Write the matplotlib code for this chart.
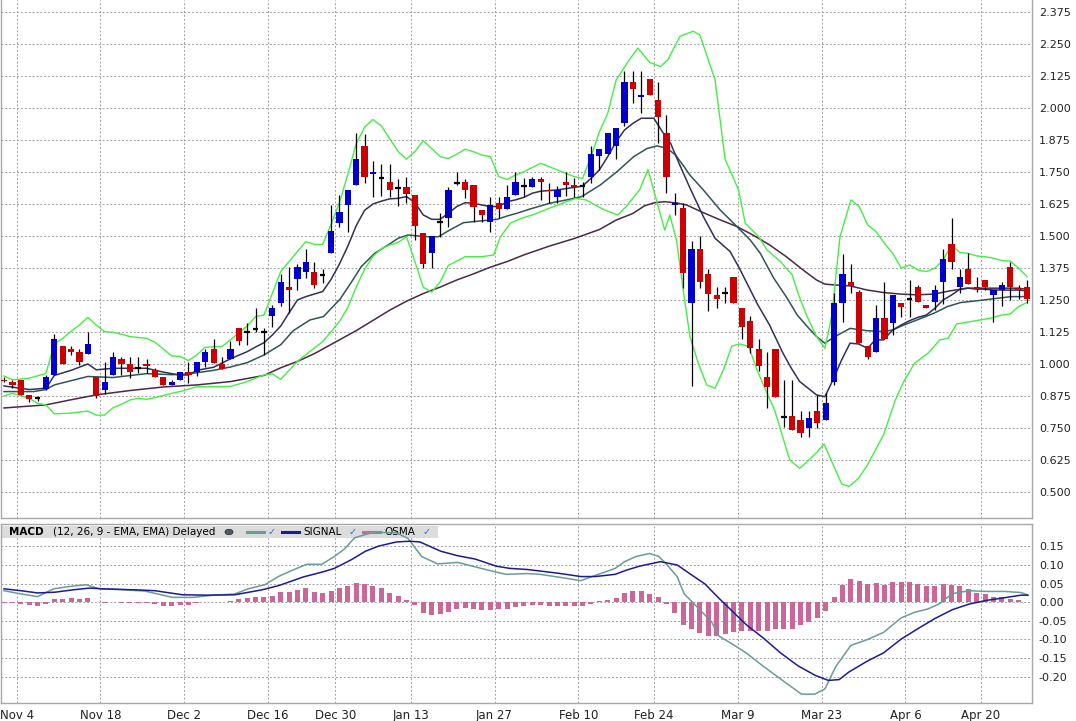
import matplotlib

matplotlib.use("Agg")
import matplotlib.pyplot as plt
from matplotlib.patches import Rectangle, Circle

W, H = 1076, 721

# ---- candles (one per trading day) ----
OPEN = [0.938, 0.930, 0.938, 0.879, 0.865, 0.901, 0.958, 1.070, 1.059, 1.048,
        1.039, 0.948, 0.898, 0.958, 1.020, 1.000, 0.986, 1.000, 0.977, 0.948,
        0.918, 0.939, 0.967, 0.970, 1.009, 1.058, 1.000, 1.021, 1.139, 1.126,
        1.137, 1.126, 1.189, 1.240, 1.299, 1.331, 1.361, 1.358, 1.348, 1.432,
        1.552, 1.621, 1.699, 1.851, 1.743, 1.728, 1.712, 1.689, 1.691, 1.660,
        1.513, 1.432, 1.556, 1.572, 1.708, 1.711, 1.699, 1.602, 1.553, 1.628,
        1.604, 1.660, 1.695, 1.693, 1.723, 1.680, 1.654, 1.709, 1.699, 1.695,
        1.732, 1.812, 1.820, 1.851, 1.943, 2.102, 2.044, 2.113, 2.031, 1.901,
        1.621, 1.609, 1.240, 1.448, 1.352, 1.268, 1.279, 1.339, 1.220, 1.168,
        1.059, 0.948, 1.057, 0.794, 0.797, 0.779, 0.749, 0.818, 0.781, 0.931,
        1.239, 1.320, 1.281, 1.070, 1.048, 1.181, 1.161, 1.237, 1.255, 1.299,
        1.229, 1.241, 1.322, 1.469, 1.302, 1.370, 1.299, 1.328, 1.269, 1.289,
        1.378, 1.298, 1.299]
HIGH = [0.948, 0.937, 0.938, 0.879, 0.876, 0.957, 1.117, 1.070, 1.070, 1.057,
        1.126, 0.948, 1.009, 1.047, 1.029, 1.029, 1.029, 1.018, 0.986, 0.948,
        0.938, 0.967, 1.009, 1.007, 1.057, 1.098, 1.026, 1.090, 1.139, 1.159,
        1.218, 1.139, 1.230, 1.352, 1.380, 1.391, 1.449, 1.397, 1.371, 1.621,
        1.660, 1.680, 1.901, 1.898, 1.793, 1.781, 1.781, 1.721, 1.729, 1.660,
        1.513, 1.500, 1.589, 1.693, 1.751, 1.724, 1.699, 1.602, 1.651, 1.654,
        1.699, 1.751, 1.725, 1.729, 1.729, 1.708, 1.695, 1.751, 1.725, 1.712,
        1.851, 1.840, 1.901, 1.920, 2.145, 2.145, 2.145, 2.113, 2.102, 1.973,
        1.669, 1.628, 1.482, 1.501, 1.371, 1.302, 1.302, 1.339, 1.220, 1.188,
        1.098, 1.046, 1.057, 0.937, 0.937, 0.818, 0.818, 0.879, 0.885, 1.276,
        1.430, 1.391, 1.289, 1.070, 1.229, 1.322, 1.270, 1.237, 1.328, 1.309,
        1.229, 1.309, 1.449, 1.569, 1.371, 1.432, 1.338, 1.328, 1.289, 1.322,
        1.400, 1.309, 1.328]
LOW = [0.931, 0.905, 0.879, 0.853, 0.857, 0.898, 0.958, 1.000, 1.035, 0.996,
       1.039, 0.865, 0.883, 0.958, 0.958, 0.945, 0.966, 0.966, 0.950, 0.918,
       0.918, 0.939, 0.925, 0.953, 0.987, 1.003, 0.979, 1.021, 1.074, 1.074,
       1.126, 1.035, 1.146, 1.227, 1.198, 1.287, 1.337, 1.296, 1.318, 1.432,
       1.536, 1.517, 1.699, 1.708, 1.651, 1.656, 1.651, 1.617, 1.628, 1.484,
       1.376, 1.376, 1.497, 1.536, 1.699, 1.650, 1.556, 1.556, 1.517, 1.569,
       1.604, 1.660, 1.651, 1.693, 1.641, 1.628, 1.628, 1.656, 1.651, 1.651,
       1.708, 1.758, 1.820, 1.799, 1.930, 2.021, 1.979, 2.052, 1.862, 1.669,
       1.582, 1.298, 0.915, 1.298, 1.208, 1.217, 1.237, 1.240, 1.096, 1.042,
       0.974, 0.827, 0.870, 0.755, 0.742, 0.716, 0.716, 0.749, 0.781, 0.918,
       1.165, 1.279, 1.081, 1.018, 1.048, 1.099, 1.113, 1.185, 1.185, 1.241,
       1.220, 1.211, 1.234, 1.370, 1.279, 1.311, 1.283, 1.287, 1.165, 1.227,
       1.250, 1.255, 1.237]
CLOSE = [0.932, 0.919, 0.879, 0.862, 0.865, 0.948, 1.096, 1.000, 1.048, 1.009,
         1.078, 0.876, 0.930, 1.026, 1.000, 0.970, 0.986, 0.990, 0.950, 0.918,
         0.930, 0.967, 0.957, 1.007, 1.045, 1.003, 0.979, 1.057, 1.091, 1.126,
         1.137, 1.126, 1.218, 1.319, 1.290, 1.378, 1.397, 1.309, 1.348, 1.519,
         1.595, 1.680, 1.801, 1.732, 1.751, 1.728, 1.680, 1.689, 1.663, 1.539,
         1.391, 1.500, 1.556, 1.680, 1.708, 1.680, 1.612, 1.583, 1.621, 1.604,
         1.651, 1.711, 1.695, 1.723, 1.712, 1.675, 1.680, 1.699, 1.691, 1.695,
         1.820, 1.840, 1.901, 1.920, 2.102, 2.074, 2.052, 2.052, 1.964, 1.732,
         1.629, 1.354, 1.448, 1.322, 1.272, 1.253, 1.279, 1.240, 1.143, 1.061,
         0.990, 0.909, 0.870, 0.794, 0.742, 0.729, 0.788, 0.768, 0.846, 1.237,
         1.352, 1.305, 1.081, 1.029, 1.181, 1.099, 1.270, 1.221, 1.255, 1.241,
         1.220, 1.289, 1.410, 1.400, 1.338, 1.311, 1.292, 1.302, 1.289, 1.308,
         1.299, 1.289, 1.253]

# ---- overlay lines, sampled at day index ----
BB_UP_X = [0, 1, 3, 5, 6, 7, 8, 9, 10, 11, 12, 13, 14, 15, 17, 18, 20, 21, 22, 23, 24, 26, 27,
           29, 30, 31, 32, 33, 34, 35, 36, 37, 38, 39, 40, 41, 42, 43, 44, 45, 46, 47, 48,
           49, 50, 51, 52, 53, 54, 55, 56, 57, 58, 59, 60, 61, 62, 64, 66, 68, 69, 70, 71,
           72, 73, 74.6, 75.6, 77, 78.3, 79.2, 80.6, 82.2, 83, 84.8, 86, 87.6, 88.4, 90, 91,
           92.6, 94, 94.7, 95.7, 96.9, 97.9, 98.7, 99.7, 101, 102, 103, 104, 105, 106, 107,
           108, 109, 110, 111, 112, 113, 114, 115, 116, 117, 118, 119, 120, 121, 122]
BB_UP_Y = [0.953, 0.938, 0.944, 0.963, 1.078, 1.100, 1.128, 1.152, 1.182, 1.152, 1.126, 1.124,
           1.116, 1.107, 1.100, 1.085, 1.031, 1.029, 1.013, 1.035, 1.065, 1.068, 1.094,
           1.148, 1.185, 1.191, 1.276, 1.361, 1.40, 1.44, 1.478, 1.467, 1.467, 1.545, 1.63,
           1.74, 1.86, 1.925, 1.955, 1.93, 1.88, 1.83, 1.80, 1.83, 1.872, 1.842, 1.81,
           1.803, 1.82, 1.839, 1.829, 1.816, 1.81, 1.732, 1.721, 1.738, 1.751, 1.784,
           1.758, 1.732, 1.725, 1.810, 1.907, 1.979, 2.109, 2.19, 2.234, 2.178, 2.162, 2.19,
           2.28, 2.30, 2.285, 2.11, 1.80, 1.68, 1.55, 1.497, 1.445, 1.40, 1.348, 1.276,
           1.191, 1.107, 1.061, 1.185, 1.497, 1.641, 1.615, 1.543, 1.517, 1.471, 1.432,
           1.374, 1.387, 1.367, 1.361, 1.374, 1.406, 1.465, 1.435, 1.432, 1.422, 1.419,
           1.413, 1.404, 1.402, 1.374, 1.341]
BB_LO_X = [0, 1, 3, 4, 5, 6, 8, 10, 11, 12, 13, 14, 15, 16, 17, 18, 20, 21, 23, 27, 29, 31,
           32, 33, 35, 37, 38, 39, 40, 41, 42, 43, 44, 45, 46, 47, 48, 49, 50, 51, 52, 53,
           55, 57, 58.4, 59.2, 60.4, 61.7, 63, 65, 66.6, 68.2, 69.4, 70.5, 71.6, 73.2, 74.2,
           75.8, 76.8, 77.8, 78.8, 79.4, 80.2, 81, 81.8, 82.8, 83.8, 84.8, 85.8, 86.8, 87.8,
           88.8, 89.8, 91, 91.9, 93.7, 94.9, 96, 97, 97.8, 99.9, 100.8, 101.9, 102.9, 104.9,
           106.3, 107.3, 108.6, 110.2, 111.6, 112.6, 113.6, 115.9, 117.6, 119, 120, 121, 122]
BB_LO_Y = [0.875, 0.885, 0.866, 0.846, 0.84, 0.805, 0.808, 0.816, 0.80, 0.80, 0.829, 0.842,
           0.859, 0.866, 0.862, 0.868, 0.885, 0.892, 0.911, 0.912, 0.931, 0.957, 0.961,
           0.94, 1.01, 1.062, 1.087, 1.126, 1.166, 1.22, 1.30, 1.37, 1.42, 1.45, 1.465,
           1.475, 1.497, 1.40, 1.30, 1.28, 1.32, 1.385, 1.419, 1.419, 1.426, 1.497, 1.55,
           1.569, 1.582, 1.608, 1.628, 1.647, 1.641, 1.621, 1.602, 1.582, 1.615, 1.680,
           1.760, 1.641, 1.523, 1.582, 1.484, 1.289, 1.107, 1.003, 0.918, 0.905, 0.977,
           1.07, 1.078, 1.068, 0.977, 0.885, 0.82, 0.625, 0.592, 0.625, 0.657, 0.687, 0.531,
           0.521, 0.553, 0.601, 0.723, 0.859, 0.931, 1.003, 1.042, 1.094, 1.10, 1.156,
           1.169, 1.178, 1.191, 1.195, 1.224, 1.24]
EMA_FAST_X = [0, 3, 5, 6, 8, 10, 11, 13, 15, 17, 19, 20, 21, 22, 23, 25, 27, 29, 30, 31, 32,
              33, 34, 35, 36, 38, 39, 40, 41, 42, 43, 44, 45, 46, 47, 48, 49, 50, 51, 52, 53,
              54, 55, 56, 57, 58, 59, 60, 61, 62, 63, 64, 66, 68, 69, 70, 71, 72, 73, 74, 75,
              76, 77.5, 78.5, 79.5, 80.5, 81.8, 83.4, 84.8, 86.6, 87.7, 88.9, 89.9, 91.3, 92.9,
              93.9, 94.9, 95.9, 96.9, 97.9, 98.9, 99.9, 100.9, 101.9, 103, 103.9, 104.9, 106,
              107, 108, 109, 110, 111, 112, 113, 114, 115, 116, 117, 118, 119, 120, 121, 122]
EMA_FAST_Y = [0.914, 0.90, 0.905, 0.955, 0.975, 1.0, 0.977, 0.983, 0.983, 0.983, 0.968, 0.962,
              0.956, 0.957, 0.975, 0.987, 1.02, 1.048, 1.066, 1.083, 1.113, 1.148, 1.20, 1.25,
              1.263, 1.283, 1.33, 1.39, 1.46, 1.54, 1.60, 1.625, 1.636, 1.645, 1.647, 1.654,
              1.63, 1.582, 1.565, 1.565, 1.589, 1.615, 1.630, 1.628, 1.621, 1.615, 1.615,
              1.634, 1.641, 1.651, 1.667, 1.675, 1.680, 1.69, 1.695, 1.725, 1.758, 1.810,
              1.868, 1.914, 1.940, 1.960, 1.960, 1.908, 1.862, 1.784, 1.688, 1.576, 1.491,
              1.439, 1.374, 1.296, 1.231, 1.152, 1.042, 0.983, 0.931, 0.905, 0.879, 0.872,
              0.94, 1.016, 1.081, 1.078, 1.061, 1.094, 1.094, 1.133, 1.152, 1.169, 1.182,
              1.191, 1.217, 1.25, 1.269, 1.292, 1.296, 1.292, 1.292, 1.289, 1.289, 1.288,
              1.289, 1.285]
EMA_MID_X = [0, 3.5, 5, 6, 10, 13, 17, 20, 22, 25, 27, 29, 31, 33, 34.5, 36.5, 38.1, 40.1,
             41.6, 42.6, 44.2, 45.8, 47, 48.2, 49.4, 50.6, 51.8, 53.2, 54.8, 56, 57.2, 58.8,
             60, 61.2, 62.7, 65.1, 67.1, 68.9, 71.1, 73.1, 75.1, 76.7, 77.9, 79.1, 80.1, 81.1,
             81.8, 83.4, 85.4, 87.4, 89, 90.2, 91.8, 93.4, 94.6, 95.8, 96.9, 97.9, 98.9, 100.9,
             102.9, 104.9, 106, 107.3, 108.9, 110.9, 112.5, 114.1, 116.1, 118.1, 120.1, 122]
EMA_MID_Y = [0.892, 0.892, 0.90, 0.918, 0.951, 0.947, 0.962, 0.958, 0.961, 0.975, 0.988, 1.005,
             1.035, 1.075, 1.13, 1.172, 1.185, 1.254, 1.328, 1.380, 1.432, 1.465, 1.491,
             1.504, 1.50, 1.497, 1.497, 1.524, 1.552, 1.556, 1.56, 1.565, 1.578, 1.589, 1.605,
             1.628, 1.641, 1.654, 1.699, 1.751, 1.810, 1.842, 1.852, 1.842, 1.816, 1.771,
             1.738, 1.68, 1.602, 1.537, 1.484, 1.432, 1.335, 1.257, 1.191, 1.146, 1.107, 1.081,
             1.103, 1.139, 1.13, 1.126, 1.133, 1.152, 1.172, 1.198, 1.224, 1.24, 1.247, 1.255,
             1.263, 1.263]
SMA_SLOW_X = [0, 5, 8, 11, 15, 19, 23, 27, 31, 33, 35, 37, 40, 42, 44, 46, 48, 50, 52, 54, 56,
              58, 60, 62, 65, 68, 71, 73, 75, 76.4, 77.6, 78.8, 80.4, 81.4, 83.4, 85.4, 87.4,
              89.3, 91.3, 93.3, 95.3, 96.9, 97.9, 98.9, 100.9, 102.9, 104.9, 106.9, 108.9,
              110.9, 112.9, 114.9, 116.9, 118.9, 120.9, 122]
SMA_SLOW_Y = [0.828, 0.84, 0.86, 0.879, 0.896, 0.91, 0.918, 0.931, 0.955, 0.985, 1.01, 1.04,
              1.094, 1.13, 1.17, 1.21, 1.245, 1.275, 1.30, 1.328, 1.352, 1.378, 1.40, 1.426,
              1.46, 1.49, 1.525, 1.562, 1.588, 1.618, 1.63, 1.634, 1.628, 1.621, 1.591, 1.563,
              1.537, 1.504, 1.465, 1.419, 1.367, 1.328, 1.312, 1.309, 1.305, 1.289, 1.279,
              1.273, 1.27, 1.273, 1.286, 1.296, 1.296, 1.296, 1.296, 1.292]

# ---- MACD panel ----
MACD_X = [0, 1.6, 4.0, 5.9, 7.7, 9.8, 11.4, 13.9, 16.8, 20.1, 22.5, 25, 27.5, 29.1, 31.1, 32.8,
          34.4, 36.1, 37.9, 39.4, 40.6, 41.8, 43.1, 44.3, 45.5, 46.8, 48.2, 49.8, 51.7, 54.1,
          56.2, 58.5, 59.9, 62.4, 63.9, 66.0, 68.8, 70.5, 72.9, 74.0, 75.4, 77.0, 78.1, 79.1,
          80.3, 81.1, 82.8, 84.4, 85.2, 86.9, 88.5, 90.6, 92.6, 95.1, 96.7, 97.9, 99.2, 101.0,
          102.9, 104.9, 107.0, 108.6, 110.2, 111.5, 113.1, 115.1, 117.2, 119.3, 121.3, 122.1]
MACD_Y = [0.031, 0.024, 0.015, 0.036, 0.042, 0.047, 0.036, 0.034, 0.03, 0.013, 0.013, 0.019,
          0.022, 0.036, 0.047, 0.07, 0.086, 0.102, 0.102, 0.123, 0.143, 0.173, 0.182, 0.189,
          0.187, 0.187, 0.171, 0.123, 0.103, 0.107, 0.095, 0.082, 0.075, 0.077, 0.075, 0.068,
          0.058, 0.072, 0.091, 0.109, 0.123, 0.131, 0.123, 0.1, 0.068, 0.023, -0.016, -0.053,
          -0.09, -0.113, -0.136, -0.173, -0.206, -0.247, -0.247, -0.233, -0.173, -0.116,
          -0.101, -0.081, -0.042, -0.027, -0.018, -0.005, 0.023, 0.031, 0.029, 0.029, 0.026,
          0.019]
SIGNAL_X = [0, 2.0, 4.0, 6.1, 8.1, 10.2, 11.8, 16.0, 18.0, 21.3, 24.2, 27.5, 30.7, 32.8, 35.7,
            38.1, 39.4, 41.4, 43.1, 44.7, 46.8, 48.4, 49.6, 52.1, 54.1, 56.2, 58.7, 60.3, 62.4,
            63.9, 66.4, 68.8, 70.5, 72.9, 74.2, 75.8, 78.3, 80.3, 81.9, 83.6, 85.2, 86.9, 88.5,
            90.6, 92.6, 94.7, 96.7, 98.3, 99.6, 100.8, 102.9, 104.9, 107.0, 109.0, 111.0,
            113.1, 115.1, 117.2, 119.3, 121.3, 122.1]
SIGNAL_Y = [0.036, 0.031, 0.025, 0.027, 0.033, 0.038, 0.036, 0.033, 0.031, 0.02, 0.019, 0.02,
            0.033, 0.045, 0.068, 0.082, 0.091, 0.114, 0.137, 0.151, 0.162, 0.164, 0.162, 0.137,
            0.125, 0.116, 0.097, 0.091, 0.088, 0.084, 0.077, 0.069, 0.069, 0.075, 0.086, 0.097,
            0.109, 0.1, 0.075, 0.049, 0.012, -0.025, -0.06, -0.097, -0.136, -0.171, -0.196,
            -0.21, -0.208, -0.187, -0.159, -0.136, -0.099, -0.071, -0.044, -0.02, -0.005, 0.005,
            0.012, 0.019, 0.019]
OSMA = [-0.003, -0.003, -0.005, -0.007, -0.010, -0.005, 0.009, 0.009, 0.011, 0.009,
        0.011, 0.000, -0.003, 0.000, -0.002, -0.002, -0.003, -0.003, -0.005, -0.010,
        -0.010, -0.008, -0.008, -0.002, 0.000, 0.000, 0.000, 0.002, 0.009, 0.011,
        0.014, 0.014, 0.018, 0.028, 0.028, 0.034, 0.037, 0.028, 0.025, 0.030,
        0.037, 0.044, 0.052, 0.050, 0.043, 0.039, 0.025, 0.016, 0.006, -0.007,
        -0.030, -0.035, -0.032, -0.025, -0.018, -0.016, -0.018, -0.021, -0.021, -0.019,
        -0.018, -0.012, -0.010, -0.007, -0.007, -0.011, -0.011, -0.011, -0.011, -0.011,
        -0.004, 0.002, 0.007, 0.012, 0.026, 0.029, 0.029, 0.023, 0.015, -0.005,
        -0.030, -0.060, -0.071, -0.082, -0.090, -0.090, -0.085, -0.081, -0.076, -0.076,
        -0.076, -0.076, -0.073, -0.071, -0.071, -0.062, -0.053, -0.042, -0.023, 0.015,
        0.046, 0.063, 0.056, 0.049, 0.052, 0.046, 0.054, 0.054, 0.054, 0.049,
        0.043, 0.043, 0.049, 0.047, 0.043, 0.035, 0.026, 0.021, 0.014, 0.014,
        0.009, 0.007, 0.001]

DATE_LABELS = ["Nov 4", "Nov 18", "Dec 2", "Dec 16", "Dec 30", "Jan 13", "Jan 27",
               "Feb 10", "Feb 24", "Mar 9", "Mar 23", "Apr 6", "Apr 20"]
DATE_POS = [1.5, 11.5, 21.5, 31.5, 39.5, 48.5, 58.5, 68.5, 77.5, 87.5, 97.5, 107.5, 116.5]
PRICE_TICKS = [0.500, 0.625, 0.750, 0.875, 1.000, 1.125, 1.250, 1.375, 1.500, 1.625,
               1.750, 1.875, 2.000, 2.125, 2.250, 2.375]
MACD_TICKS = [-0.20, -0.15, -0.10, -0.05, 0.00, 0.05, 0.10, 0.15]

UP = "#0000cc"
DOWN = "#cc0000"
GRID = "#a0a0a0"
FRAME = "#a8a8a8"


def fig_box(x0, y0, x1, y1):
    """Pixel box -> figure fraction rect."""
    return [x0 / W, 1 - y1 / H, (x1 - x0) / W, (y1 - y0) / H]


def style_axis(ax):
    ax.set_xlim(-0.36, 122.6)
    ax.set_xticks(DATE_POS)
    ax.yaxis.tick_right()
    ax.tick_params(axis="both", length=0, labelsize=8, colors="#222222", pad=5)
    ax.grid(True, color=GRID, linestyle=(0, (2, 2)), linewidth=0.7)
    ax.set_axisbelow(True)
    for side in ("left", "right", "top", "bottom"):
        ax.spines[side].set_color(FRAME)
        ax.spines[side].set_linewidth(1.0)


def draw_candles(ax):
    idx = range(len(OPEN))
    ax.vlines(idx, LOW, HIGH, color="black", linewidth=0.9, zorder=3)
    for i in idx:
        o, c = OPEN[i], CLOSE[i]
        if c == o:
            ax.hlines(o, i - 0.33, i + 0.33, color="black", linewidth=1.6, zorder=4)
            continue
        color = UP if c > o else DOWN
        ax.bar(i, abs(c - o), bottom=min(o, c), width=0.74, color=color,
               linewidth=0, zorder=4)


def draw_legend(fig, ax):
    # drawn inside the MACD axes, under the indicator lines
    tf = fig.transFigure
    ax.add_patch(Rectangle((2 / W, 1 - 538 / H), 436 / W, 12 / H, transform=tf,
                           facecolor="#dcdcdc", edgecolor="none", zorder=2.5, clip_on=False))
    yc = 1 - 532 / H
    ax.text(9 / W, yc, "MACD", transform=tf, fontsize=7.5, fontweight="bold",
            va="center", zorder=2.6)
    ax.text(53 / W, yc, "(12, 26, 9 - EMA, EMA) Delayed", transform=tf, fontsize=7.5,
            va="center", zorder=2.6)
    ax.add_patch(Circle((229 / W, yc), 4 / W, transform=tf, facecolor="#4a5a70",
                        edgecolor="#222222", lw=0.5, zorder=2.6, clip_on=False))
    items = [(247, "#6a9c98", None), (282, "#1a1a9a", "SIGNAL"), (363, "#cc6699", "OSMA")]
    checks = [272, 353, 427]
    for (x0, color, name), cx in zip(items, checks):
        ax.plot([x0 / W, (x0 + 17) / W], [yc, yc], color=color, lw=2.2, transform=tf,
                zorder=2.6, clip_on=False)
        if name:
            ax.text((x0 + 21) / W, yc, name, transform=tf, fontsize=7.5, va="center",
                    zorder=2.6)
        ax.text(cx / W, yc, "\u2713", transform=tf, fontsize=7, fontweight="bold",
                color="#1f6fd6", va="center", ha="center", zorder=2.6)


def main():
    fig = plt.figure(figsize=(W / 100, H / 100), dpi=100)
    fig.patch.set_facecolor("white")

    ax = fig.add_axes(fig_box(1, 0, 1032, 518))
    style_axis(ax)
    ax.set_ylim(0.398, 2.422)
    ax.set_yticks(PRICE_TICKS)
    ax.set_yticklabels([f"{t:.3f}" for t in PRICE_TICKS])
    ax.set_xticklabels([])
    ax.spines["top"].set_visible(False)

    ax.plot(SMA_SLOW_X, SMA_SLOW_Y, color="#4a2848", lw=1.1, zorder=2)
    ax.plot(EMA_MID_X, EMA_MID_Y, color="#2f5555", lw=1.1, zorder=2)
    ax.plot(EMA_FAST_X, EMA_FAST_Y, color="#30305a", lw=1.1, zorder=2)
    ax.plot(BB_UP_X, BB_UP_Y, color="#44ee44", lw=1.0, zorder=2)
    ax.plot(BB_LO_X, BB_LO_Y, color="#44ee44", lw=1.0, zorder=2)
    draw_candles(ax)

    mx = fig.add_axes(fig_box(1, 523.5, 1032, 702.5))
    style_axis(mx)
    mx.set_ylim(-0.2695, 0.2116)
    mx.set_yticks(MACD_TICKS)
    mx.set_yticklabels([f"{t:.2f}" for t in MACD_TICKS])
    mx.set_xticklabels(DATE_LABELS, fontsize=8.5)
    mx.bar(range(len(OSMA)), OSMA, width=0.6, color="#cc6699", linewidth=0, zorder=2)
    mx.plot(MACD_X, MACD_Y, color="#6a9c98", lw=1.1, zorder=3)
    mx.plot(SIGNAL_X, SIGNAL_Y, color="#1a1a9a", lw=1.1, zorder=3)

    draw_legend(fig, mx)

    fig.savefig("out.png", dpi=100)
    plt.close(fig)


if __name__ == "__main__":
    main()
